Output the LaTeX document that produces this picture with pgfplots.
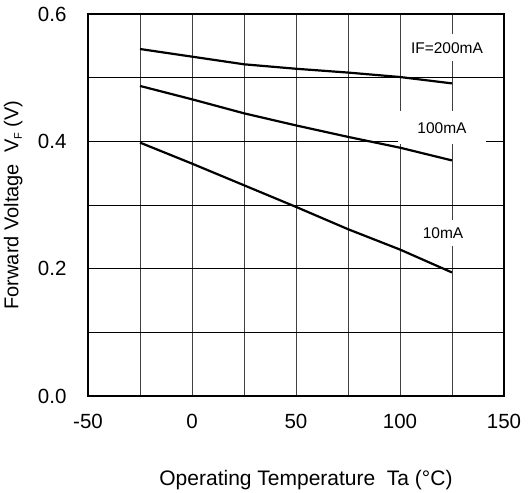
\documentclass[border=0pt]{standalone}
\usepackage{pgfplots}
\pgfplotsset{compat=1.18}
\usepackage{fontspec}
\setmainfont{Liberation Sans}
\begin{document}
\begin{tikzpicture}
\begin{axis}[name=ax, scale only axis, width=416pt, height=382pt,
 xmin=-50, xmax=150, ymin=0, ymax=0.6,
 xtick={-50,0,50,100,150}, minor xtick={-25,25,75,125},
 ytick={0,0.2,0.4,0.6}, minor ytick={0.1,0.3,0.5},
 grid=both,
 major grid style={line width=0.9pt},
 minor grid style={line width=0.9pt},
 x grid style={black!75, line width=0.9pt},
 y grid style={black, line width=0.9pt},
 tick style={draw=none},
 axis line style={line width=2.6pt},
 /pgf/number format/assume math mode=true,
 ticklabel style={font=\fontsize{20.5}{20.5}\selectfont},
 yticklabel style={/pgf/number format/fixed, /pgf/number format/fixed zerofill, /pgf/number format/precision=1, xshift=-18pt},
 xticklabel style={/pgf/number format/fixed, yshift=-15pt},
 xlabel={Operating Temperature\ \ Ta (°C)},
 ylabel={Forward Voltage\ \ V\raisebox{-0.35ex}{\fontsize{11}{11}\selectfont F} (V)},
 xlabel style={font=\fontsize{21}{21}\selectfont, at={(axis description cs:0.524,-0.22)}, anchor=center},
 ylabel style={font=\fontsize{20}{20}\selectfont, at={(axis description cs:-0.18,0.5)}, anchor=center},
]
\addplot[black, line width=2.2pt] coordinates {(-25,0.545)(0,0.533)(25,0.521)(50,0.514)(75,0.508)(100,0.501)(125,0.491)};
\addplot[black, line width=2.2pt] coordinates {(-25,0.487)(0,0.466)(25,0.444)(50,0.425)(75,0.407)(100,0.390)(125,0.370)};
\addplot[black, line width=2.2pt] coordinates {(-25,0.398)(0,0.365)(25,0.331)(50,0.297)(75,0.262)(100,0.230)(125,0.194)};
\node[fill=white, inner xsep=10pt, inner ysep=8pt, font=\fontsize{15.5}{15.5}\selectfont] at (axis cs:122.6,0.547) {IF=200mA};
\node[fill=white, inner xsep=19pt, inner ysep=11pt, font=\fontsize{15.5}{15.5}\selectfont] at (axis cs:120.2,0.421) {100mA};
\node[fill=white, inner xsep=8pt, inner ysep=8pt, font=\fontsize{15.5}{15.5}\selectfont] at (axis cs:120.7,0.256) {10mA};
\end{axis}
\pgfresetboundingbox
\path[use as bounding box] ([xshift=-88pt,yshift=-97pt]ax.south west) rectangle ([xshift=25pt,yshift=14pt]ax.north east);
\end{tikzpicture}
\end{document}
